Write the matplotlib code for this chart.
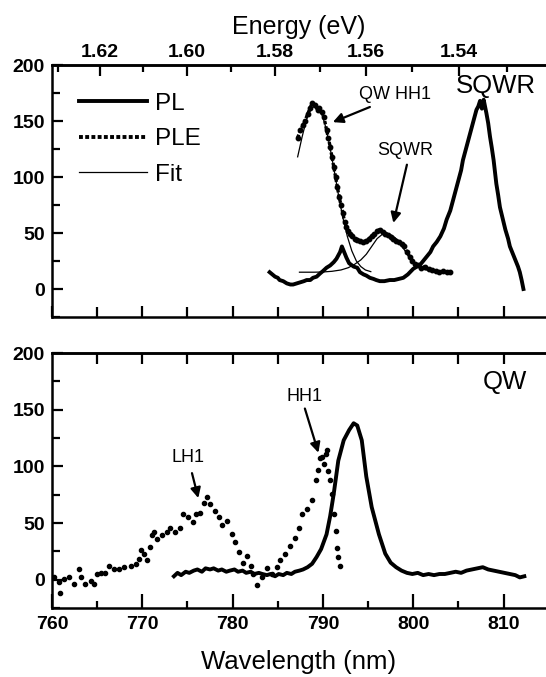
import matplotlib
matplotlib.use("Agg")
import matplotlib.pyplot as plt
from matplotlib.ticker import MultipleLocator, FixedLocator
from matplotlib.lines import Line2D

plt.rcParams['font.family'] = ['Liberation Sans', 'DejaVu Sans']

# ---------------- data: top panel (SQWR sample) ----------------
sqwr_pl_wl = [784.1, 784.4, 784.7, 785.0, 785.2, 785.6, 786.0, 786.4, 786.7, 787.1, 787.5, 787.9,
              788.2, 788.6, 788.9, 789.3, 789.7, 790.0, 790.4, 790.8, 791.2, 791.5, 791.7, 791.9,
              792.1, 792.3, 792.6, 792.9, 793.4, 793.8, 794.1, 794.5, 794.8, 795.2, 795.6, 795.9,
              796.3, 796.8, 797.4, 797.9, 798.4, 798.9, 799.4, 800.0, 800.4, 800.8, 801.1, 801.5,
              801.9, 802.2, 802.6, 803.0, 803.4, 803.7, 804.1, 804.4, 804.7, 805.0, 805.3, 805.5,
              805.8, 806.1, 806.4, 806.7, 807.0, 807.2, 807.4, 807.6, 807.8, 808.1, 808.3, 808.5,
              808.7, 808.9, 809.2, 809.4, 809.6, 809.9, 810.2, 810.5, 810.7, 811.0, 811.3, 811.6,
              811.8, 812.0, 812.2]
sqwr_pl_int = [15, 13, 11, 10, 8, 7, 5, 4, 4, 5, 6, 7,
               8, 8, 10, 11, 14, 16, 19, 21, 24, 27, 30, 33,
               38, 34, 28, 23, 20, 19, 15, 13, 12, 10, 9, 8,
               7, 7, 8, 8, 9, 10, 13, 18, 20, 22, 25, 29,
               33, 38, 42, 47, 54, 62, 70, 79, 88, 97, 106, 115,
               124, 133, 142, 151, 160, 163, 168, 161, 169, 157, 148, 136,
               126, 115, 94, 84, 73, 63, 53, 45, 38, 32, 26, 20,
               15, 8, 0]

sqwr_ple_wl = [787.2, 787.5, 787.8, 788.0, 788.3, 788.6, 788.8, 789.1, 789.4, 789.6, 789.9, 790.1,
               790.4, 790.6, 790.8, 791.0, 791.2, 791.4, 791.6, 791.8, 792.0, 792.2, 792.4, 792.6,
               792.8, 793.0, 793.2, 793.5, 793.8, 794.1, 794.4, 794.8, 795.1, 795.4, 795.7, 796.0,
               796.3, 796.6, 796.9, 797.2, 797.5, 797.8, 798.1, 798.4, 798.7, 799.0, 799.3, 799.6,
               799.9, 800.2, 800.5, 800.9, 801.3, 801.7, 802.1, 802.5, 802.9, 803.3, 803.7, 804.1]
sqwr_ple_int = [135, 142, 146, 150, 156, 162, 166, 164, 160, 162, 158, 154,
                142, 135, 127, 118, 109, 100, 91, 82, 75, 68, 60, 55,
                52, 49, 47, 45, 44, 43, 42, 43, 45, 47, 49, 52,
                53, 51, 49, 48, 46, 45, 43, 42, 40, 38, 33, 29,
                25, 22, 21, 19, 20, 18, 17, 16, 15, 16, 15, 15]

fit1_wl = [787.2, 787.7, 788.2, 788.7, 789.2, 789.7, 790.2, 790.7, 791.2, 791.7, 792.2, 792.7,
           793.2, 793.7, 794.2, 794.7, 795.3]
fit1_int = [118, 136, 152, 161, 164, 160, 148, 130, 108, 85, 64, 47,
            34, 25, 20, 17, 15.5]

fit2_wl = [787.4, 788.0, 789.0, 790.0, 791.0, 792.0, 792.8, 793.5, 794.2, 794.8, 795.4, 796.0,
           796.6, 797.1, 797.6, 798.1, 798.6, 799.1, 799.6, 800.1, 800.6, 801.2, 802.0]
fit2_int = [15, 15, 15, 15.2, 15.8, 17, 19, 22, 26, 31, 38, 45,
            49, 50, 48, 45, 40, 34, 28, 23, 20, 17.5, 16]

# ---------------- data: bottom panel (QW sample) ----------------
qw_pl_wl = [773.5, 773.9, 774.3, 774.8, 775.2, 775.7, 776.1, 776.6, 777.0, 777.5, 777.9, 778.4,
            778.8, 779.3, 779.7, 780.2, 780.6, 781.1, 781.5, 782.0, 782.4, 782.9, 783.3, 783.8,
            784.2, 784.7, 785.1, 785.6, 786.0, 786.5, 786.9, 787.4, 787.8, 788.3, 788.8, 789.3,
            789.8, 790.4, 790.8, 791.2, 791.7, 792.3, 792.9, 793.4, 793.8, 794.3, 794.8, 795.4,
            796.2, 796.9, 797.5, 798.1, 798.7, 799.3, 799.9, 800.5, 801.1, 801.7, 802.3, 802.9,
            803.5, 804.1, 804.7, 805.3, 805.9, 806.5, 807.1, 807.7, 808.3, 808.9, 809.5, 810.1,
            810.7, 811.3, 811.8, 812.3]
qw_pl_int = [3, 6, 4, 7, 6, 8, 9, 7, 10, 9, 10, 8,
             9, 7, 8, 9, 7, 8, 6, 7, 5, 6, 5, 4,
             5, 3, 5, 4, 6, 5, 7, 8, 9, 11, 14, 20,
             27, 40, 56, 76, 105, 123, 132, 138, 136, 123, 91, 64,
             40, 23, 15, 11, 8, 6, 5, 6, 4, 5, 4, 5,
             5, 6, 7, 6, 8, 9, 10, 11, 9, 8, 7, 6,
             5, 4, 2, 3]

qw_ple_wl = [760.2, 760.8, 760.9, 761.3, 761.9, 762.4, 763.0, 763.2, 763.6, 764.3, 764.6, 765.0,
             765.4, 765.9, 766.3, 766.9, 767.4, 768.0, 768.7, 769.3, 769.6, 769.8, 770.2, 770.5,
             770.9, 771.1, 771.3, 771.6, 772.2, 772.7, 773.1, 773.6, 774.2, 774.5, 775.1, 775.6,
             776.0, 776.4, 776.8, 777.2, 777.5, 778.1, 778.5, 778.8, 779.4, 779.9, 780.3, 780.7,
             781.1, 781.6, 782.0, 782.3, 782.7, 783.3, 783.8, 784.4, 784.9, 785.3, 785.8, 786.4,
             786.9, 787.3, 787.7, 788.2, 788.8, 789.2, 789.4, 789.7, 789.9, 790.1, 790.3, 790.5,
             790.6, 790.8, 791.0, 791.2, 791.4, 791.6, 791.7, 791.9]
qw_ple_int = [2, -2, -12, 1, 2, -4, 9, 2, -4, -1, -4, 5,
              6, 6, 12, 9, 9, 11, 12, 14, 18, 26, 23, 17,
              29, 39, 42, 36, 39, 42, 46, 42, 46, 58, 55, 51,
              58, 59, 68, 73, 67, 61, 55, 48, 52, 40, 33, 24,
              15, 21, 12, 5, -5, 2, 10, 5, 11, 17, 23, 30,
              37, 46, 58, 62, 70, 88, 97, 107, 108, 102, 111, 114,
              96, 88, 76, 58, 43, 28, 20, 12]

energy_ticks = [1.54, 1.56, 1.58, 1.60, 1.62]
energy_minor = [1.53, 1.55, 1.57, 1.59, 1.61, 1.63]
y_ticks = [0, 50, 100, 150, 200]
wl_ticks = [760, 770, 780, 790, 800, 810]

# ---------------- figure ----------------
W, H = 546, 677
fig = plt.figure(figsize=(W / 100, H / 100), dpi=100)

def frac_box(x0, y0, x1, y1):
    return [x0 / W, 1 - y1 / H, (x1 - x0) / W, (y1 - y0) / H]

ax1 = fig.add_axes(frac_box(52, 65, 546, 317))
ax2 = fig.add_axes(frac_box(52, 353, 546, 608))

XLIM = (760, 814.7)
YLIM = (-25, 200)
TICKFS = 14
TICKW = 'bold'

for ax in (ax1, ax2):
    ax.set_xlim(*XLIM)
    ax.set_ylim(*YLIM)
    ax.spines['right'].set_visible(False)
    for s in ('left', 'top', 'bottom'):
        ax.spines[s].set_linewidth(1.8)
    ax.yaxis.set_major_locator(FixedLocator(y_ticks))
    ax.yaxis.set_minor_locator(MultipleLocator(25))
    ax.xaxis.set_major_locator(FixedLocator(wl_ticks))
    ax.xaxis.set_minor_locator(MultipleLocator(5))
    ax.tick_params(axis='y', which='major', direction='in', length=8, width=1.6,
                   labelsize=TICKFS, pad=5, right=False)
    ax.tick_params(axis='y', which='minor', direction='in', length=6, width=1.6, right=False)
    for lab in ax.get_yticklabels():
        lab.set_fontweight(TICKW)

# top panel x ticks (no labels)
ax1.tick_params(axis='x', which='major', direction='in', length=8, width=1.6,
                labelbottom=False, top=False)
ax1.tick_params(axis='x', which='minor', direction='in', length=7, width=1.6, top=False)

# bottom panel x ticks
ax2.tick_params(axis='x', which='major', direction='in', length=10, width=1.6,
                labelsize=TICKFS, pad=6, top=False)
ax2.tick_params(axis='x', which='minor', direction='in', length=5, width=1.6, top=False)
for lab in ax2.get_xticklabels():
    lab.set_fontweight(TICKW)
# ticks along the top spine of the lower panel, every 5 nm
sec2 = ax2.secondary_xaxis('top')
sec2.set_xticks([765, 770, 775, 780, 785, 790, 795, 800, 805, 810])
sec2.tick_params(axis='x', direction='in', length=8, width=1.6, labeltop=False)
sec2.spines['top'].set_linewidth(1.8)

# energy axis on top
sec = ax1.secondary_xaxis('top', functions=(lambda l: 1239.84 / l, lambda e: 1239.84 / e))
sec.xaxis.set_major_locator(FixedLocator(energy_ticks))
sec.xaxis.set_minor_locator(FixedLocator(energy_minor))
sec.set_xticklabels([f"{e:.2f}" for e in energy_ticks], fontweight=TICKW)
sec.tick_params(axis='x', which='major', direction='in', length=8, width=1.6,
                labelsize=TICKFS, pad=3)
sec.tick_params(axis='x', which='minor', direction='in', length=5, width=1.6)
sec.spines['top'].set_linewidth(1.8)
sec.set_xlabel("Energy (eV)", fontsize=18, labelpad=7)

# ---- top panel curves ----
ax1.plot(sqwr_pl_wl, sqwr_pl_int, color='black', lw=2.8, solid_joinstyle='round')
ax1.plot(sqwr_ple_wl, sqwr_ple_int, color='black', lw=2.4, ls=(0, (1, 0.6)),
         marker='o', ms=3.2, markevery=1)
ax1.plot(fit1_wl, fit1_int, color='black', lw=0.9)
ax1.plot(fit2_wl, fit2_int, color='black', lw=0.9)

handles = [Line2D([], [], color='black', lw=2.8),
           Line2D([], [], color='black', lw=2.8, ls=(0, (1, 0.6))),
           Line2D([], [], color='black', lw=0.9)]
leg = ax1.legend(handles, ['PL', 'PLE', 'Fit'], loc='upper left', bbox_to_anchor=(0.055, 0.89),
                 frameon=False, fontsize=17.5, handlelength=2.8, handletextpad=0.3,
                 labelspacing=0.56, borderpad=0, borderaxespad=0)

arrow_kw = dict(arrowstyle='-|>', color='black', lw=1.6, mutation_scale=15,
                shrinkA=0, shrinkB=0)
ax1.text(798.0, 174, 'QW HH1', fontsize=13, ha='center', va='center')
ax1.annotate('', xy=(791.1, 149), xytext=(795.2, 162.5), arrowprops=arrow_kw)
ax1.text(799.1, 124, 'SQWR', fontsize=13, ha='center', va='center')
ax1.annotate('', xy=(797.8, 59), xytext=(799.3, 111), arrowprops=arrow_kw)
ax1.text(809.1, 181, 'SQWR', fontsize=18.5, ha='center', va='center')

# ---- bottom panel curves ----
ax2.plot(qw_pl_wl, qw_pl_int, color='black', lw=2.8, solid_joinstyle='round')
ax2.plot(qw_ple_wl, qw_ple_int, color='black', ls='none', marker='o', ms=3.0)

ax2.text(775.1, 108, 'LH1', fontsize=13, ha='center', va='center')
ax2.annotate('', xy=(776.2, 72), xytext=(775.5, 94), arrowprops=arrow_kw)
ax2.text(788.0, 162, 'HH1', fontsize=13, ha='center', va='center')
ax2.annotate('', xy=(789.5, 112), xytext=(788.0, 151), arrowprops=arrow_kw)
ax2.text(810.2, 174, 'QW', fontsize=18.5, ha='center', va='center')

ax2.set_xlabel("Wavelength (nm)", fontsize=18.5, labelpad=12)

fig.savefig("out.png", dpi=100)
